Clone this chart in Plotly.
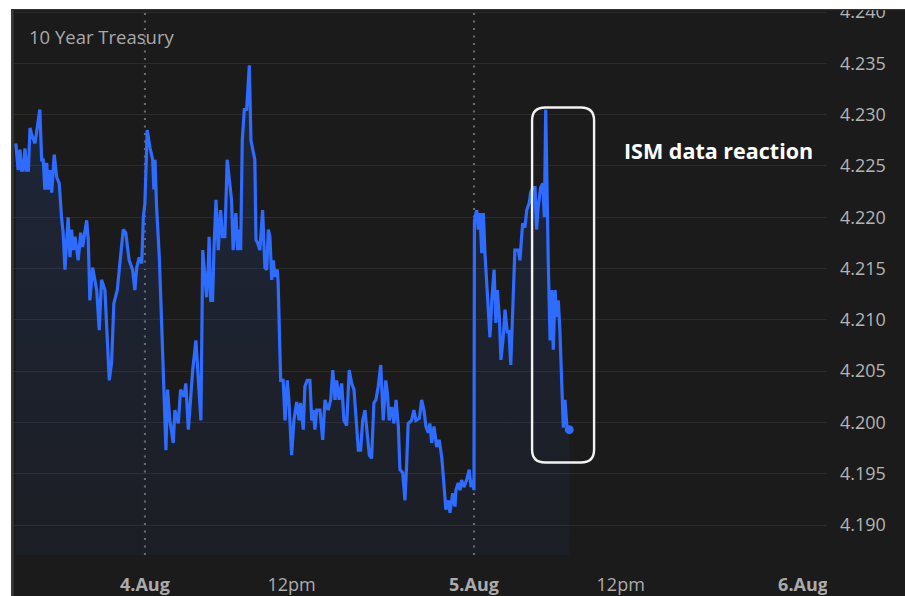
import pandas as pd
import plotly.graph_objects as go

# ---- data ----
# minutes after 4 Aug 2025 00:00 (chart time axis)
minutes = [
    -565, -555, -547, -540, -533, -525, -518, -510, -503, -495, -481, -474, -460, -452, -445, -438,
    -430, -423, -416, -408, -397, -386, -375, -365, -358, -350, -336, -328, -321, -314, -306, -292,
    -281, -273, -263, -255, -248, -241, -229, -219, -211, -200, -190, -175, -165, -156, -146, -136,
    -121, -109, -95, -84, -69, -54, -44, -36, -25, -14, -7, 0, 10, 22, 34, 39,
    44, 51, 63, 73, 84, 92, 99, 109, 124, 131, 146, 156, 171, 179, 190, 200,
    209, 223, 233, 245, 253, 263, 270, 277, 281, 288, 296, 302, 311, 321, 331, 340,
    350, 360, 372, 379, 386, 398, 406, 413, 419, 426, 435, 445, 457, 464, 481, 486,
    493, 503, 515, 525, 533, 540, 547, 555, 562, 569, 579, 583, 594, 605, 613, 623,
    630, 642, 652, 664, 675, 681, 693, 700, 710, 722, 730, 737, 744, 752, 766, 778,
    788, 802, 813, 822, 832, 839, 850, 861, 871, 883, 894, 905, 915, 924, 934, 944,
    953, 963, 973, 982, 992, 1002, 1011, 1021, 1032, 1043, 1054, 1061, 1069, 1080, 1090, 1099,
    1109, 1116, 1128, 1138, 1145, 1152, 1167, 1177, 1186, 1201, 1211, 1221, 1230, 1240, 1247, 1255,
    1265, 1277, 1288, 1299, 1306, 1317, 1328, 1335, 1347, 1357, 1361, 1371, 1379, 1386, 1396, 1408,
    1419, 1427, 1434, 1440, 1442, 1452, 1459, 1466, 1474, 1481, 1488, 1503, 1510, 1518, 1528, 1536,
    1542, 1551, 1558, 1568, 1576, 1586, 1593, 1601, 1609, 1619, 1634, 1641, 1653, 1663, 1671, 1682,
    1688, 1697, 1707, 1714, 1721, 1732, 1741, 1748, 1754, 1761, 1765, 1773, 1780, 1787, 1795, 1802,
    1809, 1816, 1824, 1831, 1838, 1848, 1857,
]
yields = [
    4.2272, 4.2246, 4.2266, 4.2246, 4.2246, 4.2267, 4.2246, 4.2246, 4.2287, 4.2280, 4.2272, 4.2285, 4.2305, 4.2256, 4.2256, 4.2227,
    4.2253, 4.2227, 4.2246, 4.2224, 4.2261, 4.2239, 4.2233, 4.2200, 4.2185, 4.2149, 4.2200, 4.2161, 4.2188, 4.2168, 4.2181, 4.2158,
    4.2185, 4.2171, 4.2188, 4.2197, 4.2178, 4.2119, 4.2151, 4.2139, 4.2129, 4.2090, 4.2139, 4.2129, 4.2080, 4.2041, 4.2058, 4.2116,
    4.2129, 4.2155, 4.2188, 4.2185, 4.2158, 4.2149, 4.2129, 4.2151, 4.2161, 4.2155, 4.2200, 4.2214, 4.2285, 4.2268, 4.2256, 4.2227,
    4.2256, 4.2210, 4.2161, 4.2097, 4.2032, 4.1973, 4.2032, 4.2002, 4.1980, 4.2012, 4.1999, 4.2032, 4.2025, 4.2038, 4.1993, 4.2022,
    4.2051, 4.2080, 4.2038, 4.2002, 4.2168, 4.2142, 4.2122, 4.2151, 4.2181, 4.2119, 4.2119, 4.2168, 4.2217, 4.2168, 4.2207, 4.2181,
    4.2181, 4.2256, 4.2227, 4.2217, 4.2168, 4.2204, 4.2168, 4.2188, 4.2168, 4.2275, 4.2305, 4.2305, 4.2348, 4.2275, 4.2256, 4.2178,
    4.2175, 4.2168, 4.2207, 4.2151, 4.2149, 4.2188, 4.2181, 4.2139, 4.2158, 4.2142, 4.2149, 4.2136, 4.2041, 4.2041, 4.2002, 4.2041,
    4.2022, 4.1968, 4.2002, 4.2020, 4.2002, 4.2019, 4.1993, 4.2035, 4.2041, 4.2041, 4.2002, 4.2012, 4.1993, 4.2012, 4.2012, 4.1983,
    4.2022, 4.2012, 4.2022, 4.2051, 4.2022, 4.2041, 4.2022, 4.2038, 4.2002, 4.1997, 4.2051, 4.2038, 4.2032, 4.1999, 4.1973, 4.1973,
    4.2002, 4.2012, 4.1986, 4.1968, 4.1965, 4.2019, 4.2022, 4.2035, 4.2056, 4.2002, 4.2041, 4.2029, 4.2002, 4.2015, 4.1999, 4.2022,
    4.1996, 4.1954, 4.1951, 4.1924, 4.1957, 4.1999, 4.2002, 4.2012, 4.2002, 4.2004, 4.2022, 4.2012, 4.1996, 4.1990, 4.1999, 4.1980,
    4.1996, 4.1976, 4.1983, 4.1966, 4.1947, 4.1915, 4.1924, 4.1912, 4.1931, 4.1918, 4.1934, 4.1941, 4.1934, 4.1944, 4.1937, 4.1944,
    4.1954, 4.1937, 4.1944, 4.1934, 4.2197, 4.2207, 4.2188, 4.2204, 4.2165, 4.2204, 4.2165, 4.2112, 4.2083, 4.2119, 4.2149, 4.2097,
    4.2129, 4.2103, 4.2061, 4.2083, 4.2110, 4.2087, 4.2090, 4.2056, 4.2107, 4.2168, 4.2168, 4.2158, 4.2194, 4.2190, 4.2207, 4.2214,
    4.2224, 4.2229, 4.2229, 4.2188, 4.2210, 4.2229, 4.2233, 4.2200, 4.2305, 4.2194, 4.2158, 4.2080, 4.2129, 4.2071, 4.2129, 4.2103,
    4.2119, 4.2090, 4.2032, 4.1995, 4.2022, 4.1993, 4.1993,
]

y_ticks = [4.190, 4.195, 4.200, 4.205, 4.210, 4.215, 4.220, 4.225, 4.230, 4.235, 4.240]
x_tick_times = ["2025-08-04 00:00", "2025-08-04 10:42", "2025-08-05 00:00", "2025-08-05 10:42", "2025-08-06 00:00"]
x_tick_labels = ["<b>4.Aug</b>", "12pm", "<b>5.Aug</b>", "12pm", "<b>6.Aug</b>"]
day_lines = ["2025-08-04 00:00", "2025-08-05 00:00"]
x_range = ["2025-08-03 14:27", "2025-08-06 01:45"]
y_range = [4.18708, 4.2402]

title_text = "10 Year Treasury"
callout_text = "ISM data reaction"
callout_center_time = "2025-08-05 06:30"
callout_center_value = 4.2134

# ---- styling ----
BG = "#1b1b1b"
LINE = "#2e6bff"
FONT = "Open Sans"

times = pd.Timestamp("2025-08-04") + pd.to_timedelta(minutes, unit="min")

fig = go.Figure()
fig.add_trace(go.Scatter(
    x=times, y=yields, mode="lines",
    line=dict(color=LINE, width=3.2),
    fill="tozeroy",
    fillgradient=dict(type="vertical", start=y_range[0], stop=max(yields),
                      colorscale=[[0, "rgba(46,107,255,0.04)"], [1, "rgba(46,107,255,0.14)"]]),
    hoverinfo="skip", showlegend=False,
))
fig.add_trace(go.Scatter(
    x=[times[-1]], y=[yields[-1]], mode="markers",
    marker=dict(color=LINE, size=9), hoverinfo="skip", showlegend=False,
))

shapes = []
for d in day_lines:
    shapes.append(dict(type="line", xref="x", yref="paper", x0=d, x1=d, y0=0, y1=1,
                       line=dict(color="#6e6e6e", width=2, dash="2px,5.5px"), layer="below"))

# rounded callout box around the ISM reaction
W, H, r = 31, 177.5, 13
path = (f"M {-W+r},{-H} L {W-r},{-H} Q {W},{-H} {W},{-H+r} L {W},{H-r} Q {W},{H} {W-r},{H} "
        f"L {-W+r},{H} Q {-W},{H} {-W},{H-r} L {-W},{-H+r} Q {-W},{-H} {-W+r},{-H} Z")
shapes.append(dict(type="path", xref="x", yref="y", xsizemode="pixel", ysizemode="pixel",
                   xanchor=callout_center_time, yanchor=callout_center_value, path=path,
                   line=dict(color="#f2f2f2", width=2.4), layer="above"))

# screenshot frame: white margins + thin grey border
shapes += [
    dict(type="rect", xref="paper", yref="paper", x0=-0.05, x1=1.2, y0=1.0018, y1=1.05,
         fillcolor="white", line=dict(width=0), layer="above"),
    dict(type="rect", xref="paper", yref="paper", x0=-0.05, x1=-0.0037, y0=-0.2, y1=1.05,
         fillcolor="white", line=dict(width=0), layer="above"),
    dict(type="rect", xref="paper", yref="paper", x0=-0.0037, x1=-0.0005, y0=-0.2, y1=1.0018,
         fillcolor="#3a3a3a", line=dict(width=0), layer="above"),
    dict(type="rect", xref="paper", yref="paper", x0=-0.0037, x1=1.2, y0=0.9994, y1=1.0018,
         fillcolor="#333333", line=dict(width=0), layer="above"),
    # clip of the last x label at the plot's right edge
    dict(type="rect", xref="paper", yref="paper", x0=1.0, x1=1.2, y0=-0.2, y1=-0.012,
         fillcolor=BG, line=dict(width=0), layer="above"),
]

fig.update_layout(
    width=905, height=596,
    margin=dict(l=14, r=78, t=10, b=41),
    paper_bgcolor=BG, plot_bgcolor=BG,
    font=dict(family=FONT, color="#b4b4b4", size=18),
    shapes=shapes,
    annotations=[
        dict(text=title_text, xref="paper", yref="paper", x=0.016, y=0.9505,
             xanchor="left", yanchor="middle", showarrow=False,
             font=dict(family=FONT, size=18.5, color="#a9a9a9")),
        dict(text=f"<b>{callout_text}</b>", xref="paper", yref="paper", x=0.866, y=0.743,
             xanchor="center", yanchor="middle", showarrow=False,
             font=dict(family=FONT, size=21.5, color="#ffffff")),
    ],
    xaxis=dict(type="date", range=x_range, showgrid=False, zeroline=False, showline=False,
               automargin=False,
               tickvals=x_tick_times, ticktext=x_tick_labels, ticks="",
               tickfont=dict(family=FONT, size=18, color="#ababab"), ticklabelstandoff=17),
    yaxis=dict(range=y_range, side="right", tickvals=y_ticks, tickformat=".3f",
               automargin=False, ticklabeloverflow="allow",
               showgrid=True, gridcolor="#2b2b2b", gridwidth=1, zeroline=False, showline=False,
               ticks="", tickfont=dict(family=FONT, size=18, color="#b4b4b4"), ticklabelstandoff=12),
)

# place the figure flush with the page corner (no default body margin)
fig.write_html("out.html",
               config={"displayModeBar": False},
               post_script="document.body.style.margin='0';document.body.style.overflow='hidden';")
